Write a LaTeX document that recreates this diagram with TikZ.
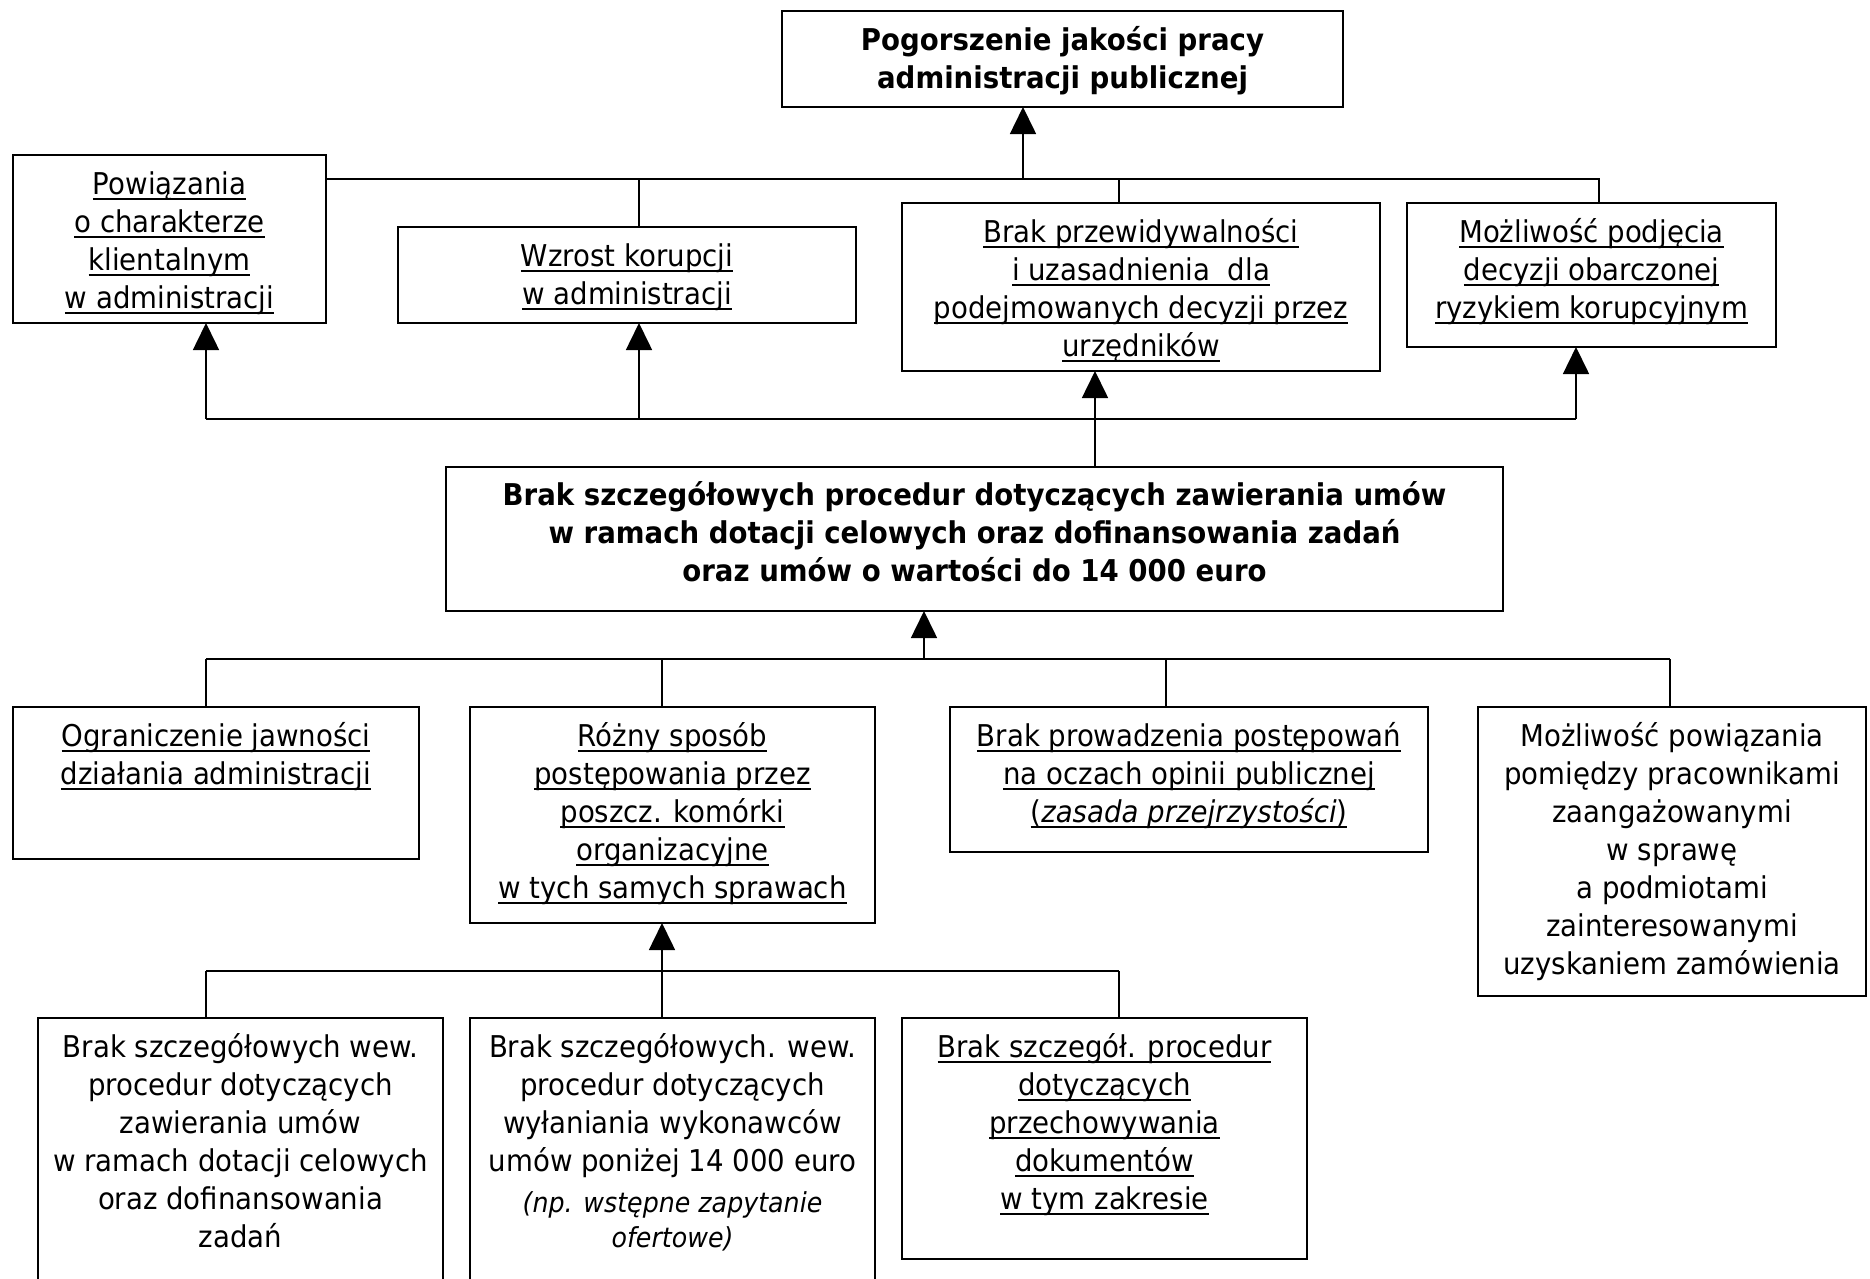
\documentclass[tikz,border=0pt]{standalone}
\usepackage{fontspec}
\setmainfont{DejaVu Sans}[FakeStretch=0.92]
\usetikzlibrary{arrows.meta}

% text settings for the boxes
\newcommand{\boxfont}{\fontsize{30}{38}\selectfont\lineskiplimit=-100pt\relax}
\newcommand{\notefont}{\fontsize{27.5}{35}\selectfont\itshape\lineskiplimit=-100pt\relax}
\newcommand{\topstrut}{\rule{0pt}{26pt}}
\newcommand{\notestrut}{\rule{0pt}{23pt}}
% underlined line of text
\newsavebox{\ulxbox}
\newcommand{\ulx}[1]{\sbox{\ulxbox}{#1}\rlap{\rule[-5.5pt]{\wd\ulxbox}{2.2pt}}\usebox{\ulxbox}}

\begin{document}
\begin{tikzpicture}[x=1pt,y=-1pt,
  box/.style={draw,line width=2pt,inner sep=0pt,outer sep=0pt,anchor=north west},
  txt/.style={anchor=north,inner sep=0pt,align=center,font=\boxfont},
  conn/.style={line width=1.6pt},
  arr/.style={conn,-{Triangle[width=26pt,length=27pt]}}]

\useasboundingbox (0,0) rectangle (1870,1278);
\clip (0,0) rectangle (1870,1278);

% ---------- boxes ----------
\node[box,minimum width=561pt,minimum height=96pt]  (top) at (782,11)   {};
\node[box,minimum width=313pt,minimum height=168pt] (pow) at (13,155)   {};
\node[box,minimum width=458pt,minimum height=96pt]  (wzr) at (398,227)  {};
\node[box,minimum width=478pt,minimum height=168pt] (prz) at (902,203)  {};
\node[box,minimum width=369pt,minimum height=144pt] (mpd) at (1407,203) {};
\node[box,minimum width=1057pt,minimum height=144pt](main) at (446,467) {};
\node[box,minimum width=406pt,minimum height=152pt] (ogr) at (13,707)   {};
\node[box,minimum width=405pt,minimum height=216pt] (roz) at (470,707)  {};
\node[box,minimum width=478pt,minimum height=145pt] (bpp) at (950,707)  {};
\node[box,minimum width=388pt,minimum height=289pt] (mpw) at (1478,707) {};
\node[box,minimum width=405pt,minimum height=290pt] (b1)  at (38,1018)  {};
\node[box,minimum width=405pt,minimum height=290pt] (b2)  at (470,1018) {};
\node[box,minimum width=405pt,minimum height=241pt] (b3)  at (902,1018) {};

% ---------- texts ----------
\node[txt] (topT) at ([yshift=-13pt]top.north)
  {\topstrut\textbf{Pogorszenie jakości pracy}\\\textbf{administracji publicznej}};
\node[txt] (powT) at ([yshift=-13pt]pow.north)
  {\topstrut\ulx{Powiązania}\\\ulx{o charakterze}\\\ulx{klientalnym}\\\ulx{w administracji}};
\node[txt] (wzrT) at ([yshift=-13pt]wzr.north)
  {\topstrut\ulx{Wzrost korupcji}\\\ulx{w administracji}};
\node[txt] (przT) at ([yshift=-13pt]prz.north)
  {\topstrut\ulx{Brak przewidywalności}\\\ulx{i uzasadnienia\ \ dla}\\\ulx{podejmowanych decyzji przez}\\\ulx{urzędników}};
\node[txt] (mpdT) at ([yshift=-13pt]mpd.north)
  {\topstrut\ulx{Możliwość podjęcia}\\\ulx{decyzji obarczonej}\\\ulx{ryzykiem korupcyjnym}};
\node[txt] (mainT) at ([yshift=-12pt]main.north)
  {\topstrut\textbf{Brak szczegółowych procedur dotyczących zawierania umów}\\
   \textbf{w ramach dotacji celowych oraz dofinansowania zadań}\\
   \textbf{oraz umów o wartości do 14 000 euro}};
\node[txt] (ogrT) at ([yshift=-13pt]ogr.north)
  {\topstrut\ulx{Ograniczenie jawności}\\\ulx{działania administracji}};
\node[txt] (rozT) at ([yshift=-13pt]roz.north)
  {\topstrut\ulx{Różny sposób}\\\ulx{postępowania przez}\\\ulx{poszcz. komórki}\\\ulx{organizacyjne}\\\ulx{w tych samych sprawach}};
\node[txt] (bppT) at ([yshift=-13pt]bpp.north)
  {\topstrut\ulx{Brak prowadzenia postępowań}\\\ulx{na oczach opinii publicznej}\\\ulx{(\textit{zasada przejrzystości})}};
\node[txt] (mpwT) at ([yshift=-13pt]mpw.north)
  {\topstrut Możliwość powiązania\\pomiędzy pracownikami\\zaangażowanymi\\w sprawę\\a podmiotami\\zainteresowanymi\\uzyskaniem zamówienia};
\node[txt] (b1T) at ([yshift=-13pt]b1.north)
  {\topstrut Brak szczegółowych wew.\\procedur dotyczących\\zawierania umów\\w ramach dotacji celowych\\oraz dofinansowania\\zadań};
\node[txt] (b2T) at ([yshift=-13pt]b2.north)
  {\topstrut Brak szczegółowych. wew.\\procedur dotyczących\\wyłaniania wykonawców\\umów poniżej 14 000 euro};
\node[txt,font=\notefont] (b2N) at ([yshift=-171pt]b2.north)
  {\notestrut(np. wstępne zapytanie\\ofertowe)};
\node[txt] (b3T) at ([yshift=-13pt]b3.north)
  {\topstrut\ulx{Brak szczegół. procedur}\\\ulx{dotyczących}\\\ulx{przechowywania}\\\ulx{dokumentów}\\\ulx{w tym zakresie}};

% ---------- junction points ----------
\coordinate (jTopArr) at (1023,179);
\coordinate (jWzrTop) at (639,179);
\coordinate (jPrzTop) at (1119,179);
\coordinate (jMpdTop) at (1599,179);

\coordinate (jPowMid) at (206,419);
\coordinate (jWzrMid) at (639,419);
\coordinate (jMpdMid) at (1576,419);
\coordinate (xPrz)    at (1095,0);

\coordinate (jMainArr) at (924,659);
\coordinate (jOgr) at (206,659);
\coordinate (jRoz) at (662,659);
\coordinate (jBpp) at (1166,659);
\coordinate (jMpw) at (1670,659);

\coordinate (jB1) at (206,971);
\coordinate (jB3) at (1119,971);
\coordinate (xB2) at (662,0);

% ---------- connectors: upper level ----------
\draw[conn] (pow.east |- jTopArr) -- (jMpdTop) -- (jMpdTop |- mpd.north);
\draw[conn] (jWzrTop) -- (jWzrTop |- wzr.north);
\draw[conn] (jPrzTop) -- (jPrzTop |- prz.north);
\draw[arr]  (jTopArr) -- (jTopArr |- top.south);

\draw[conn] (jPowMid) -- (jMpdMid);
\draw[arr]  (jPowMid) -- (jPowMid |- pow.south);
\draw[arr]  (jWzrMid) -- (jWzrMid |- wzr.south);
\draw[arr]  (jMpdMid) -- (jMpdMid |- mpd.south);
\draw[arr]  (xPrz |- main.north) -- (xPrz |- prz.south);

% ---------- connectors: middle level ----------
\draw[conn] (jOgr) -- (jMpw);
\draw[arr]  (jMainArr) -- (jMainArr |- main.south);
\draw[conn] (jOgr) -- (jOgr |- ogr.north);
\draw[conn] (jRoz) -- (jRoz |- roz.north);
\draw[conn] (jBpp) -- (jBpp |- bpp.north);
\draw[conn] (jMpw) -- (jMpw |- mpw.north);

% ---------- connectors: lower level ----------
\draw[conn] (jB1) -- (jB3);
\draw[conn] (jB1) -- (jB1 |- b1.north);
\draw[conn] (jB3) -- (jB3 |- b3.north);
\draw[arr]  (xB2 |- b2.north) -- (xB2 |- roz.south);

\end{tikzpicture}
\end{document}
